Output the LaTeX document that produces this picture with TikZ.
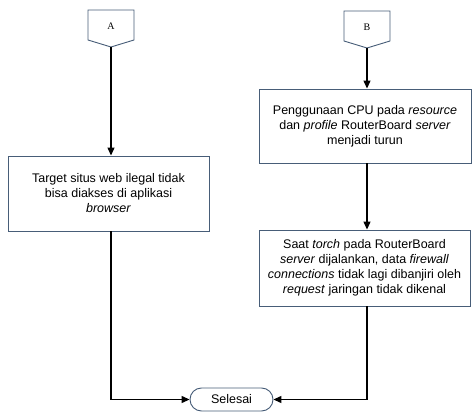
\documentclass[tikz,border=0pt]{standalone}
\usepackage{fontspec}
\setmainfont{Liberation Sans}
\newfontfamily\seriffont{Liberation Serif}
\usetikzlibrary{arrows.meta,calc}
\definecolor{boxline}{HTML}{475D78}
\tikzset{
  procbox/.style={draw=boxline, line width=0.9pt, fill=white, align=center,
    font=\fontsize{12.5}{15}\selectfont, inner sep=0pt},
  conn/.style={line width=1.3pt, -{Triangle[length=8pt,width=7pt]}},
  plainconn/.style={line width=1.3pt},
  offpage/.style={draw=boxline, line width=0.9pt, fill=white},
  termbox/.style={draw=boxline, line width=0.9pt, rounded corners=11.5pt,
    minimum width=83pt, minimum height=23pt, font=\fontsize{12.5}{15}\selectfont, inner sep=0pt}
}
\begin{document}
\begin{tikzpicture}[x=1pt,y=-1pt]
\useasboundingbox (0,0) rectangle (472,412);
% off-page connectors
\draw[offpage] (88,10) -- (134,10) -- (134,40) -- (111,47) -- (88,40) -- cycle;
\node[font=\seriffont\fontsize{10}{12}\selectfont] (A) at (111,26) {A};
\coordinate (Atip) at (111,47);
\draw[offpage] (344,11) -- (390,11) -- (390,41) -- (367,48) -- (344,41) -- cycle;
\node[font=\seriffont\fontsize{10}{12}\selectfont] (B) at (367,27) {B};
\coordinate (Btip) at (367,48);
% boxes
\node[procbox, minimum width=201pt, minimum height=75pt] (boxA) at (108.5,193.5)
  {Target situs web ilegal tidak\\bisa diakses di aplikasi\\\textit{browser}};
\node[procbox, minimum width=212pt, minimum height=74pt] (boxB1) at (365,126)
  {Penggunaan CPU pada \textit{resource}\\dan \textit{profile} RouterBoard \textit{server}\\menjadi turun};
\node[procbox, minimum width=211pt, minimum height=76pt] (boxB2) at (364.5,268)
  {Saat \textit{torch} pada RouterBoard\\\textit{server} dijalankan, data \textit{firewall}\\\textit{connections} tidak lagi dibanjiri oleh\\\textit{request} jaringan tidak dikenal};
\node[termbox] (end) at (231.5,399.5) {Selesai};
% connectors
\draw[conn] (Atip) -- (Atip |- boxA.north);
\draw[conn] (Btip) -- (Btip |- boxB1.north);
\draw[conn] (Btip |- boxB1.south) -- (Btip |- boxB2.north);
\draw[conn] (Atip |- boxA.south) |- (end.west);
\draw[conn] (Btip |- boxB2.south) |- (end.east);
\end{tikzpicture}
\end{document}
